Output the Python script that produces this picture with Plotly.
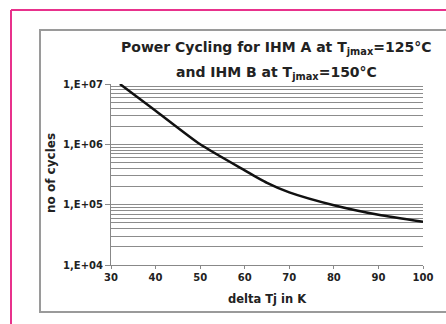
import plotly.graph_objects as go

delta_tj = [32, 40, 50, 60, 65, 70, 80, 90, 100]
cycles = [1.0e7, 3.6e6, 1.0e6, 3.7e5, 2.3e5, 1.6e5, 9.8e4, 6.8e4, 5.2e4]

x_ticks = [30, 40, 50, 60, 70, 80, 90, 100]
y_tickvals = [1e4, 1e5, 1e6, 1e7]
y_ticktext = ["1,E+04", "1,E+05", "1,E+06", "1,E+07"]

FONT = "DejaVu Sans, Arial, sans-serif"
TXT = "#222222"

fig = go.Figure()
fig.add_trace(go.Scatter(x=delta_tj, y=cycles, mode="lines",
                         line=dict(color="#111111", width=2.5, shape="spline", smoothing=0.6),
                         showlegend=False, hoverinfo="skip"))

L, R, T, B = 111, 423, 84, 265
W, H = 446, 324
pw, ph = R - L, B - T
def px(x): return (x - L) / pw
def py(y): return (B - y) / ph

fig.update_layout(
    width=W, height=H,
    margin=dict(l=L, r=W - R, t=T, b=H - B),
    paper_bgcolor="white", plot_bgcolor="white",
    font=dict(family=FONT, color=TXT),
    xaxis=dict(range=[30, 100], tickvals=x_ticks, showgrid=False, zeroline=False,
               showline=True, linecolor="#888888", linewidth=1,
               ticks="outside", ticklen=3, tickcolor="#888888",
               tickfont=dict(size=10, family=FONT, weight="bold", color=TXT)),
    yaxis=dict(type="log", range=[4, 7], tickvals=y_tickvals, ticktext=y_ticktext,
               showgrid=True, gridcolor="#8c8c8c", gridwidth=1, zeroline=False,
               showline=True, linecolor="#888888", linewidth=1,
               ticks="outside", ticklen=5, tickcolor="#888888",
               tickfont=dict(size=10, family=FONT, weight="bold", color=TXT),
               minor=dict(dtick="D1", showgrid=True, gridcolor="#8c8c8c", gridwidth=1, ticks="")),
    shapes=[
        dict(type="rect", xref="paper", yref="paper", x0=px(40), x1=px(460), y0=py(312), y1=py(30),
             line=dict(color="#9a9a9a", width=2), layer="below"),
        dict(type="line", xref="paper", yref="paper", x0=px(11), x1=px(460), y0=py(10), y1=py(10),
             line=dict(color="#e8318c", width=2)),
        dict(type="line", xref="paper", yref="paper", x0=px(11), x1=px(11), y0=py(10), y1=py(340),
             line=dict(color="#e8318c", width=2)),
    ],
    annotations=[
        dict(text="Power Cycling for IHM A at T<sub>jmax</sub>=125°C", xref="paper", yref="paper",
             x=px(276), y=py(48), showarrow=False, font=dict(size=14, weight="bold", color=TXT),
             xanchor="center", yanchor="middle"),
        dict(text="and IHM B at T<sub>jmax</sub>=150°C", xref="paper", yref="paper",
             x=px(276), y=py(73), showarrow=False, font=dict(size=14, weight="bold", color=TXT),
             xanchor="center", yanchor="middle"),
        dict(text="no of cycles", xref="paper", yref="paper", x=px(51), y=py(173), textangle=-90,
             showarrow=False, font=dict(size=12, weight="bold", color=TXT),
             xanchor="center", yanchor="middle"),
        dict(text="delta Tj in K", xref="paper", yref="paper", x=px(267), y=py(299),
             showarrow=False, font=dict(size=11.5, weight="bold", color=TXT),
             xanchor="center", yanchor="middle"),
    ],
)

fig.write_html("out.html")
